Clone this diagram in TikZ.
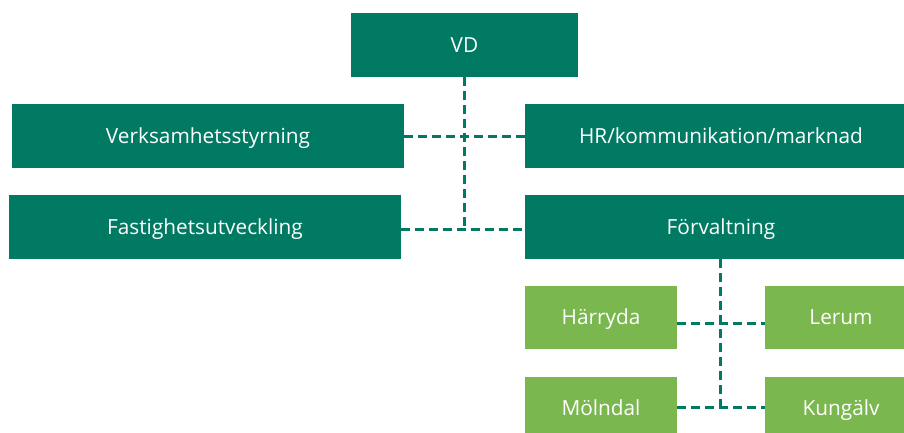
\documentclass[tikz,border=0pt]{standalone}
\usepackage{fontspec}
\setmainfont{Open Sans}
\definecolor{dkgreen}{HTML}{007A63}
\definecolor{ltgreen}{HTML}{7AB74F}
\begin{document}
\begin{tikzpicture}[x=1pt,y=-1pt,
  box/.style={fill=dkgreen,text=white,inner sep=0pt,text height=14.8pt,text depth=0pt,font=\fontsize{20.8}{24}\selectfont},
  subbox/.style={box,fill=ltgreen},
  conn/.style={draw=dkgreen,line width=3pt,dash pattern=on 9pt off 5pt}]
\useasboundingbox (0,0) rectangle (904,432);
\clip (0,0) rectangle (904,432);
\fill[white] (0,0) rectangle (904,432);
\node[box,minimum width=227pt,minimum height=64pt] (vd) at (464.5,45) {VD};
\node[box,minimum width=392pt,minimum height=64pt] (verk) at (208,136) {Verksamhetsstyrning};
\node[box,minimum width=392pt,minimum height=64pt] (hr) at (721,136) {HR/kommunikation/marknad};
\node[box,minimum width=392pt,minimum height=64pt] (fast) at (205,227) {Fastighetsutveckling};
\node[box,minimum width=392pt,minimum height=64pt] (forv) at (721,227) {Förvaltning};
\node[subbox,minimum width=152pt,minimum height=63pt] (harr) at (601,317) {Härryda};
\node[subbox,minimum width=152pt,minimum height=63pt] (lerum) at (841,317) {Lerum};
\node[subbox,minimum width=152pt,minimum height=63pt] (moln) at (601,408) {Mölndal};
\node[subbox,minimum width=152pt,minimum height=63pt] (kung) at (841,408) {Kungälv};
\coordinate (j1) at (464,229);
\coordinate (j2) at (720,407);
\draw[conn] (vd.south -| j1) -- (j1);
\draw[conn] (verk.east) -- (hr.west);
\draw[conn] (fast.east |- j1) -- (forv.west |- j1);
\draw[conn] (forv.south -| j2) -- (j2);
\draw[conn] (harr.east |- 0,323) -- (lerum.west |- 0,323);
\draw[conn] (moln.east |- j2) -- (kung.west |- j2);
\end{tikzpicture}
\end{document}
